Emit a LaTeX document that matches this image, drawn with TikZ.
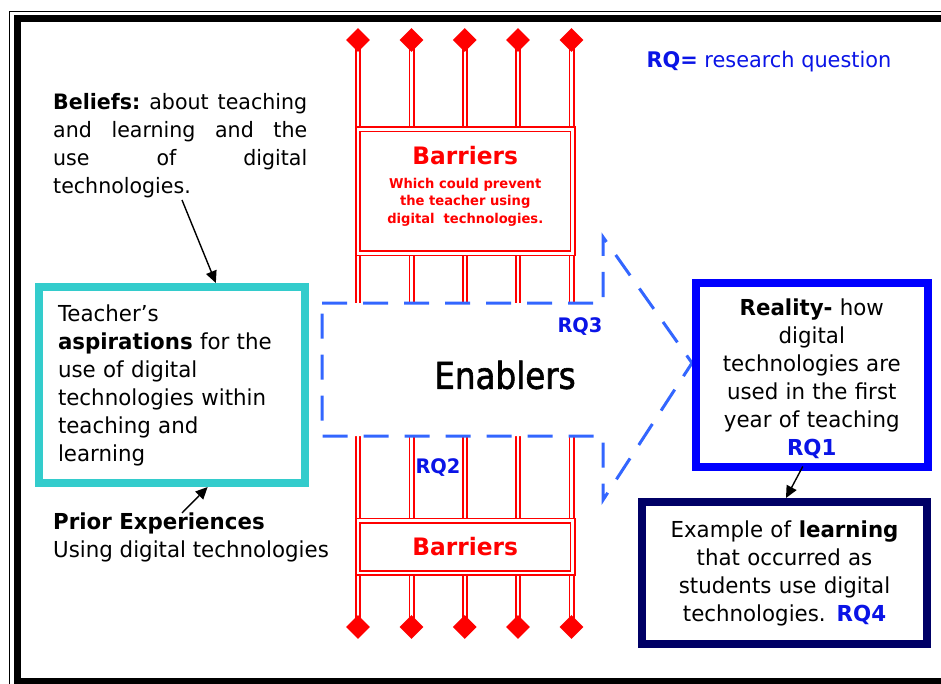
\documentclass[tikz,border=0pt]{standalone}
\usepackage{fontspec}
\setmainfont{DejaVu Sans}[FakeStretch=0.97]
\newfontfamily\enabfont{DejaVu Sans}[FakeStretch=0.88, FakeBold=1.6]
\usetikzlibrary{shapes.geometric,arrows.meta,calc}
\definecolor{rqblue}{RGB}{10,20,230}
\definecolor{dashblue}{RGB}{51,102,255}
\definecolor{tealline}{RGB}{51,204,204}
\definecolor{navyline}{RGB}{0,0,102}
\tikzset{
  ladder/.style={draw=red, double=white, double distance=2.4pt, line width=1.8pt},
  stud/.style={diamond, fill=red, inner sep=0pt, minimum size=24pt},
  barbox/.style={ladder, fill=white, inner sep=0pt, align=center, text=red},
  ptr/.style={line width=1.4pt, -{Triangle[length=12pt,width=11pt]}},
  body/.style={font=\fontsize{22}{28}\selectfont},
  rq/.style={text=rqblue, font=\fontsize{20}{24}\selectfont\bfseries}
}
\newcommand{\fullline}[1]{\makebox[254pt][l]{#1}}
\begin{document}
\begin{tikzpicture}[x=1pt, y=-1pt]
  \useasboundingbox (0,0) rectangle (941,684);
  % page frame
  \draw[line width=1pt] (9,12) rectangle (990,720);
  \draw[line width=7pt] (17,19) rectangle (980,681);
  % ladder of barriers
  \foreach \i/\x in {1/358,2/411.5,3/464.75,4/518,5/571.5} {
    \coordinate (top\i) at (\x,40);
    \coordinate (bot\i) at (\x,627);
    \draw[ladder] (top\i) -- (bot\i);
  }
  \node[barbox, minimum width=214.5pt, minimum height=124pt] (barrtop) at (465.25,191.5) {};
  \node[text=red, align=center, font=\fontsize{13.5}{17.5}\selectfont\bfseries] (barrtxt)
    at ($(barrtop)+(0,-5)$)
    {{\fontsize{24}{28}\selectfont Barriers}\\[6pt]Which could prevent\\the teacher using\\digital~ technologies.};
  \node[barbox, minimum width=214.5pt, minimum height=52.5pt,
        font=\fontsize{24}{28}\selectfont\bfseries] (barrbot) at (465.25,546.75) {Barriers};
  % enablers arrow
  \filldraw[fill=white, draw=dashblue, line width=3pt, dash pattern=on 25pt off 16pt]
    (322,303) -- (603,303) -- (603,237) -- (692,363) -- (603,500) -- (603,436) -- (322,436) -- cycle;
  \node[font=\fontsize{37}{40}\enabfont] (enab) at (505,375) {Enablers};
  \node[rq] (rq3) at (580,327) {RQ3};
  \node[rq] (rq2) at (438,468) {RQ2};
  % diamonds on the ends
  \foreach \i in {1,...,5} {
    \node[stud] (dtop\i) at (top\i) {};
    \node[stud] (dbot\i) at (bot\i) {};
  }
  % left side
  \node[font=\fontsize{21.2}{28}\selectfont, anchor=north west, inner sep=0pt, text width=254pt, align=left]
    (beliefs) at (53,93)
    {\fullline{\textbf{Beliefs:}\hfill about\hfill teaching}\\
     \fullline{and\hfill learning\hfill and\hfill the}\\
     \fullline{use\hfill of\hfill digital}\\
     technologies.};
  \node[draw=tealline, line width=8pt, minimum width=266pt, minimum height=196pt,
        text width=228pt, inner xsep=19pt, align=left, body] (asp) at (172,385)
    {Teacher’s\\\textbf{aspirations} for the\\use of digital\\technologies within\\teaching and\\learning};
  \node[body, anchor=north west, inner sep=0pt, align=left] (prior) at (53,513)
    {\textbf{Prior Experiences}\\Using digital technologies};
  \coordinate (belfoot) at (182,200);
  \draw[ptr] (belfoot) -- ($(asp.north west)!0.66!(asp.north east)$);
  \draw[ptr] ($(prior.north west)+(129,0)$) -- ($(asp.south west)!0.63!(asp.south east)$);
  % right side
  \node[anchor=west, text=rqblue, font=\fontsize{21.5}{24}\selectfont] (legend) at (643,62)
    {\textbf{RQ=} research question};
  \node[draw=blue, line width=8pt, minimum width=231.5pt, minimum height=183.5pt,
        text width=215pt, align=center, body] (real) at (811.75,374.75)
    {\rule{0pt}{25pt}\textbf{Reality-} how\\digital\\technologies are\\used in the first\\year of teaching\\\textcolor{rqblue}{\textbf{RQ1}}};
  \node[draw=navyline, line width=8pt, minimum width=285pt, minimum height=142pt,
        text width=270pt, align=center, body] (learn) at (784.5,573)
    {Example of \textbf{learning}\\that occurred as\\students use digital\\technologies. \textcolor{rqblue}{\textbf{RQ4}}};
  \draw[ptr] ($(real.south)+(-9,-4)$) -- ($(learn.north)+(1.5,0)$);
\end{tikzpicture}
\end{document}
